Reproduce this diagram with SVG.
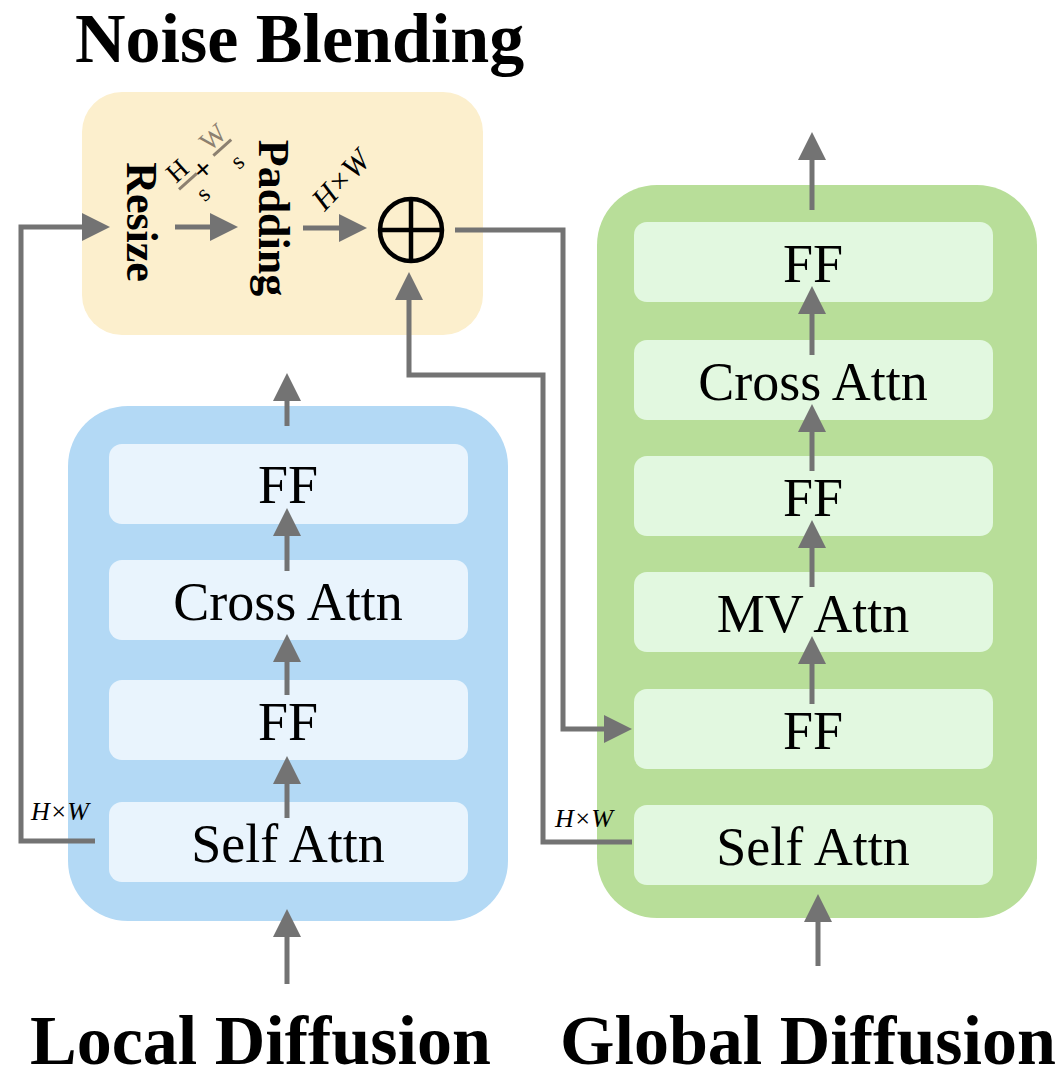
<svg xmlns="http://www.w3.org/2000/svg" width="1062" height="1080" viewBox="0 0 1062 1080">
<style>
.title{font-family:"Liberation Serif","Times New Roman",serif;font-weight:bold;font-size:70px;fill:#000}
.lbl{font-family:"Liberation Serif","Times New Roman",serif;font-size:54px;fill:#000;text-anchor:middle}
.vlbl{font-family:"Liberation Serif","Times New Roman",serif;font-weight:bold;font-size:44px;fill:#000;text-anchor:middle}
.dim{font-family:"Liberation Serif","Times New Roman",serif;font-style:italic;font-size:26px;fill:#000}
.sm{font-family:"Liberation Serif","Times New Roman",serif;fill:#000;text-anchor:middle}
.blueIn{fill:#e9f4fd}
.greenIn{fill:#e2f8e0}
.conn{fill:none;stroke:#737373;stroke-width:5;marker-end:url(#ah)}
</style>
<defs>
<marker id="ah" markerUnits="userSpaceOnUse" viewBox="0 0 28 28" refX="0" refY="14" markerWidth="28" markerHeight="28" orient="auto">
<path d="M0,0 L28,14 L0,28 Z" fill="#737373"/>
</marker>
</defs>

<text class="title" x="75" y="62">Noise Blending</text>
<text class="title" x="30" y="1064">Local Diffusion</text>
<text class="title" x="560" y="1064">Global Diffusion</text>

<g id="noise-blending">
<rect x="82" y="92" width="401" height="243" rx="40" fill="#fcefcd"/>
<text class="vlbl" transform="translate(127,222) rotate(90)">Resize</text>
<text class="vlbl" transform="translate(259,218) rotate(90)">Padding</text>
<g id="frac-label" transform="translate(202,170) rotate(-42)">
<text class="sm" x="-19" y="-7" font-size="27">H</text>
<line x1="-30" y1="-1" x2="-6" y2="-1" stroke="#8c8070" stroke-width="3"/>
<text class="sm" x="-15" y="26" font-size="24">s</text>
<text class="sm" x="1" y="10" font-size="30" font-weight="bold">+</text>
<text class="sm" x="30" y="-8" font-size="27" style="fill:#8c8070">W</text>
<line x1="18" y1="-3" x2="42" y2="-3" stroke="#8c8070" stroke-width="3"/>
<text class="sm" x="32" y="25" font-size="24">s</text>
</g>
<text class="sm" font-size="31" font-style="italic" transform="translate(341,180) rotate(-47)" y="10">H×W</text>
<g id="blend-op">
<circle cx="411" cy="230" r="31" fill="none" stroke="#000" stroke-width="4.5"/>
<line x1="380" y1="230" x2="442" y2="230" stroke="#000" stroke-width="4.5"/>
<line x1="411" y1="199" x2="411" y2="261" stroke="#000" stroke-width="4.5"/>
</g>
</g>

<g id="local-diffusion">
<rect x="68" y="406" width="440" height="515" rx="60" fill="#b3d9f5"/>
<g id="local-ff2"><rect class="blueIn" x="109" y="444" width="359" height="80" rx="13"/><text class="lbl" x="288" y="503">FF</text></g>
<g id="local-cross"><rect class="blueIn" x="109" y="560" width="359" height="80" rx="13"/><text class="lbl" x="288" y="620">Cross Attn</text></g>
<g id="local-ff1"><rect class="blueIn" x="109" y="680" width="359" height="80" rx="13"/><text class="lbl" x="288" y="740">FF</text></g>
<g id="local-self"><rect class="blueIn" x="109" y="802" width="359" height="80" rx="13"/><text class="lbl" x="288" y="862">Self Attn</text></g>
</g>

<g id="global-diffusion">
<rect x="597" y="185" width="440" height="733" rx="60" fill="#b8de99"/>
<g id="global-ff3"><rect class="greenIn" x="634" y="222" width="359" height="80" rx="13"/><text class="lbl" x="813" y="282">FF</text></g>
<g id="global-cross"><rect class="greenIn" x="634" y="340" width="359" height="80" rx="13"/><text class="lbl" x="813" y="400">Cross Attn</text></g>
<g id="global-ff2"><rect class="greenIn" x="634" y="456" width="359" height="80" rx="13"/><text class="lbl" x="813" y="516">FF</text></g>
<g id="global-mv"><rect class="greenIn" x="634" y="572" width="359" height="80" rx="13"/><text class="lbl" x="813" y="632">MV Attn</text></g>
<g id="global-ff1"><rect class="greenIn" x="634" y="689" width="359" height="80" rx="13"/><text class="lbl" x="813" y="749">FF</text></g>
<g id="global-self"><rect class="greenIn" x="634" y="805" width="359" height="80" rx="13"/><text class="lbl" x="813" y="865">Self Attn</text></g>
</g>

<g id="connectors">
<path class="conn" d="M287,984 L287,937"/>
<path class="conn" d="M287,818 L287,784"/>
<path class="conn" d="M287,695 L287,662"/>
<path class="conn" d="M287,571 L287,536"/>
<path class="conn" d="M287,426 L287,401"/>
<path class="conn" d="M818,966 L818,922"/>
<path class="conn" d="M812,704 L812,664"/>
<path class="conn" d="M812,587 L812,548"/>
<path class="conn" d="M812,471 L812,432"/>
<path class="conn" d="M812,355 L812,314"/>
<path class="conn" d="M812,210 L812,160"/>
<path class="conn" d="M95,841 L21,841 L21,227 L82,227"/>
<path class="conn" d="M175,227 L210,227"/>
<path class="conn" d="M303,228 L339,228"/>
<path class="conn" d="M632,842 L543,842 L543,375 L409,375 L409,300"/>
<path class="conn" d="M455,230 L563,230 L563,729 L604,729"/>
<text class="dim" x="31" y="820">H×W</text>
<text class="dim" x="555" y="827">H×W</text>
</g>
</svg>
